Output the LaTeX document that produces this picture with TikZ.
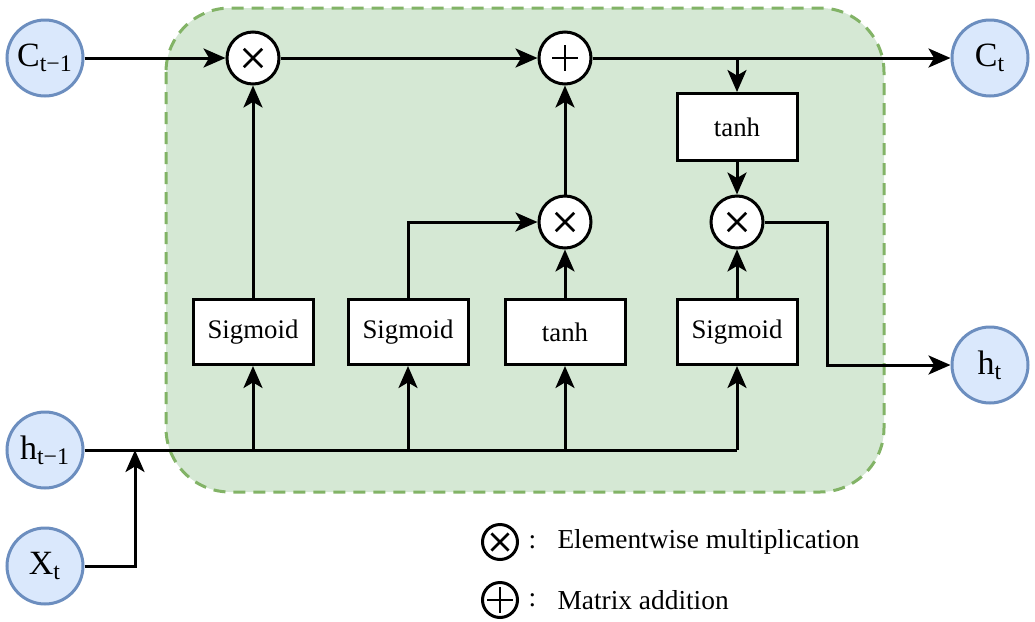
\documentclass[tikz,border=0pt]{standalone}
\usepackage{fontspec}
\setmainfont{Liberation Serif}
\usetikzlibrary{arrows.meta,calc}
\definecolor{boxgreen}{HTML}{D5E8D4}
\definecolor{edgegreen}{HTML}{82B366}
\definecolor{nodeblue}{HTML}{DAE8FC}
\definecolor{edgeblue}{HTML}{6C8EBF}
\begin{document}
\begin{tikzpicture}[x=0.5pt,y=-0.5pt,
  line width=1.5pt,
  >={Stealth[length=11pt,width=9.5pt,inset=2.8pt]},
  io/.style={circle,draw=edgeblue,fill=nodeblue,line width=1.5pt,minimum size=38pt,inner sep=0pt,font=\fontsize{17}{20}\selectfont},
  op/.style={circle,draw=black,fill=white,line width=1.5pt,minimum size=26pt,inner sep=0pt},
  opsmall/.style={circle,draw=black,fill=white,line width=1.5pt,minimum size=17.5pt,inner sep=0pt},
  times/.style={path picture={
    \coordinate (pc) at (path picture bounding box.center);
    \draw[line width=1.4pt]
      ($(pc)+(#1,#1)$) -- ($(pc)+(-#1,-#1)$)
      ($(pc)+(-#1,#1)$) -- ($(pc)+(#1,-#1)$);}},
  plus/.style={path picture={
    \coordinate (pc) at (path picture bounding box.center);
    \draw[line width=1.4pt]
      ($(pc)+(#1,0pt)$) -- ($(pc)+(-#1,0pt)$)
      ($(pc)+(0pt,#1)$) -- ($(pc)+(0pt,-#1)$);}},
  gate/.style={rectangle,draw=black,fill=white,line width=1.5pt,minimum width=60pt,minimum height=32.5pt,inner sep=0pt,font=\fontsize{13.4}{16}\selectfont},
  legendtext/.style={anchor=west,inner sep=0pt,font=\fontsize{13.7}{16}\selectfont}
]
\useasboundingbox (0,0) rectangle (1035,622);
% green cell
\draw[fill=boxgreen,draw=edgegreen,dash pattern=on 6pt off 4pt,line width=1.5pt,rounded corners=32pt] (166,8) rectangle (884,492);

% io nodes
\node[io] (cprev) at (45,58) {C\textsubscript{t−1}};
\node[io] (hprev) at (45,450) {h\textsubscript{t−1}};
\node[io] (xt) at (45,566) {X\textsubscript{t}};
\node[io] (ct) at (990,58) {C\textsubscript{t}};
\node[io] (ht) at (990,365) {h\textsubscript{t}};

% operators
\node[op,times=4.6pt] (m1) at (253,58) {};
\node[op,plus=6.4pt] (p1) at (565,58) {};
\node[op,times=4.6pt] (m2) at (565,222) {};
\node[op,times=4.6pt] (m3) at (737,222) {};

% gates
\node[gate] (s1) at (253,332) {Sigmoid};
\node[gate] (s2) at (408,332) {Sigmoid};
\node[gate] (t1) at (565,332) {tanh};
\node[gate] (s3) at (737,332) {Sigmoid};
\node[gate,minimum height=33.5pt] (t2) at (737,127) {tanh};

% junction coordinates
\coordinate (j1) at (253,450);
\coordinate (j2) at (408,450);
\coordinate (j3) at (565,450);
\coordinate (j4) at (737,450);
\coordinate (jx) at (135,450);
\coordinate (jc) at (737,58);
\coordinate (bend) at (827,365);

% connectors
\draw[->] (cprev) -- (m1);
\draw[->] (m1) -- (p1);
\draw[->] (p1) -- (ct);
\draw[->] (jc) -- (t2);
\draw[->] (t2) -- (m3);
\draw[->] (s1) -- (m1);
\draw[->] (m2) -- (p1);
\draw[->] (t1) -- (m2);
\draw[->] (s2.north) |- (m2);
\draw[->] (s3) -- (m3);
\draw[->] (m3) -| (bend) -- (ht);
\draw (hprev) -- (j4);
\draw[->] (j1) -- (s1);
\draw[->] (j2) -- (s2);
\draw[->] (j3) -- (t1);
\draw[->] (j4) -- (s3);
\draw[->] (xt) -| (jx);

% legend
\node[opsmall,times=4.3pt] (lm) at (500,542) {};
\node[opsmall,plus=6.3pt] (lp) at (500,600) {};
\node[legendtext] (lmc) at (527,542) {:};
\node[legendtext] (lpc) at (527,600) {:};
\node[legendtext] (lmt) at (556,542) {Elementwise multiplication};
\node[legendtext] (lpt) at (556,600) {Matrix addition};
\end{tikzpicture}
\end{document}
